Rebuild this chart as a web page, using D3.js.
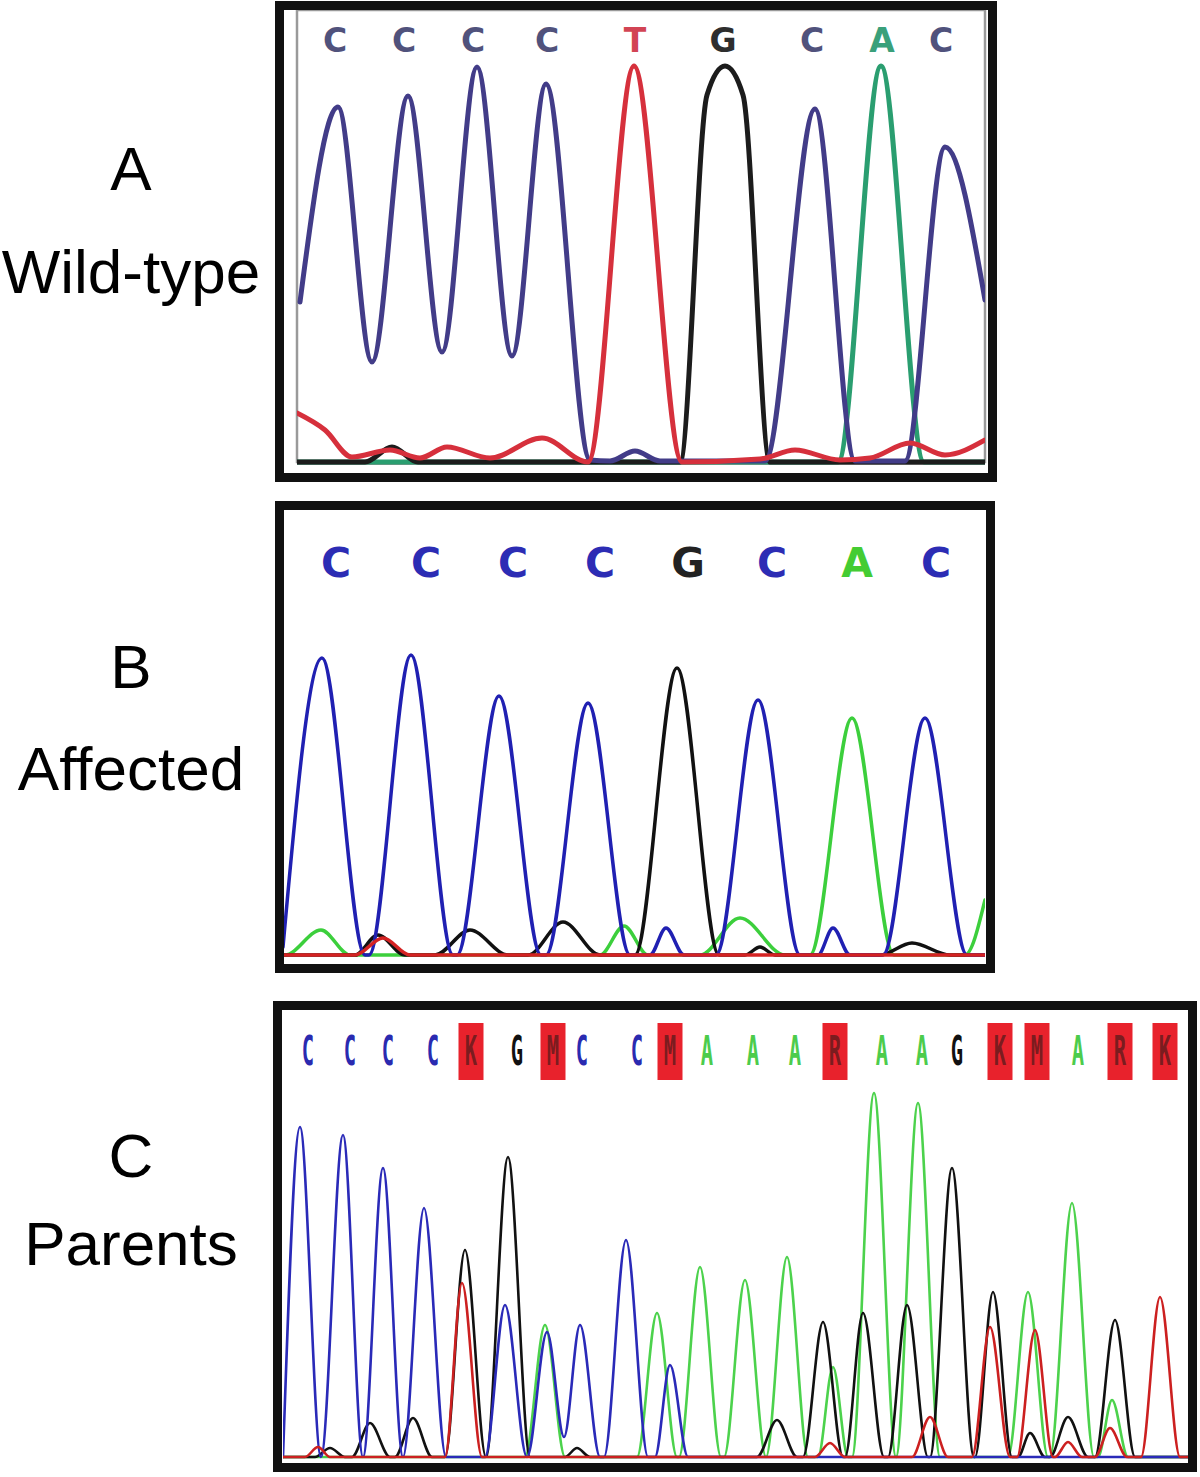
<!DOCTYPE html>
<html>
<head>
<meta charset="utf-8">
<script src="https://cdn.jsdelivr.net/npm/d3@7"></script>
<style>
  body { margin: 0; background: #fff; }
</style>
</head>
<body>
<svg width="1200" height="1477"></svg>
<script>
var svg = d3.select("svg");

// ---------- data (scan position, signal) ----------
// A: wild-type
var basesA = ["C","C","C","C","T","G","C","A","C"];
var callsA = [38, 107, 176, 250, 338, 426, 515, 585, 644];
var traceA_C = [[3,160],[41,355],[75,100],[111,366],[145,110],[180,395],[215,106],[249,378],[293,2],[313,1],[338,11],[363,1],[468,1],[518,353],[558,1],[608,1],[648,315],[688,162]];
var traceA_T = [[0,49],[28,32],[55,5],[93,12],[123,4],[150,15],[193,4],[245,24],[291,0],[337,396],[385,0],[463,3],[498,12],[543,2],[573,4],[613,19],[648,7],[688,22]];
var traceA_G = [[0,0],[68,0],[95,15],[121,0],[383,0],[410,367],[428,396],[446,367],[473,0],[688,0]];
var traceA_A = [[0,0],[541,0],[584,396],[627,0],[688,0]];

// B: affected
var basesB = ["C","C","C","C","G","C","A","C"];
var callsB = [53, 143, 230, 317, 405, 489, 574, 653];
var traceB_C = [[0,8],[39,297],[82,0],[86,0],[128,300],[170,0],[174,0],[216,259],[258,0],[263,0],[305,252],[347,0],[367,0],[383,27],[401,0],[433,0],[475,255],[517,0],[535,0],[550,27],[567,0],[600,0],[642,237],[684,0],[702,0]];
var traceB_G = [[0,0],[72,0],[95,20],[122,0],[152,0],[187,25],[225,0],[245,0],[280,33],[317,0],[352,0],[394,287],[436,0],[462,0],[477,8],[492,0],[597,0],[629,12],[667,0],[702,0]];
var traceB_A = [[0,0],[2,0],[38,25],[67,0],[317,0],[341,29],[365,0],[417,0],[457,37],[502,0],[527,0],[569,237],[611,0],[682,0],[702,55]];
var traceB_T = [[0,0],[72,0],[100,17],[127,0],[702,0]];

// C: parents
var basesC = ["C","C","C","C","K","G","M","C","C","M","A","A","A","R","A","A","G","K","M","A","R","K"];
var callsC = [25, 67, 105, 150, 188, 234, 270, 299, 354, 387, 424, 470, 512, 552, 599, 639, 674, 717, 754, 795, 837, 882];
var traceC_C = [[0,0],[17,330],[38,0],[60,322],[80,0],[100,289],[120,0],[141,249],[163,0],[202,0],[222,152],[244,0],[264,125],[281,20],[297,132],[317,0],[321,0],[343,217],[365,0],[372,0],[387,92],[405,0],[907,0]];
var traceC_G = [[0,0],[32,0],[47,9],[62,0],[69,0],[87,34],[107,0],[112,0],[130,39],[149,0],[162,0],[182,207],[203,0],[225,300],[247,0],[282,0],[294,9],[307,0],[474,0],[494,37],[514,0],[520,0],[540,135],[560,0],[562,0],[580,144],[601,0],[605,0],[624,152],[645,0],[647,0],[669,289],[691,0],[692,0],[710,165],[729,0],[735,0],[747,24],[762,0],[767,0],[785,40],[805,0],[812,0],[832,137],[852,0],[907,0]];
var traceC_T = [[0,0],[22,0],[35,10],[47,0],[162,0],[179,174],[199,0],[532,0],[547,14],[562,0],[629,0],[647,40],[665,0],[689,0],[707,130],[727,0],[734,0],[752,127],[770,0],[772,0],[785,15],[799,0],[812,0],[827,29],[844,0],[858,0],[877,160],[897,0],[907,0]];
var traceC_A = [[0,0],[242,0],[262,132],[282,0],[354,0],[374,144],[394,0],[396,0],[417,190],[438,0],[441,0],[462,177],[483,0],[504,200],[525,0],[535,0],[550,90],[565,0],[569,0],[591,364],[613,0],[635,354],[657,0],[725,0],[745,165],[765,0],[767,0],[789,254],[811,0],[815,0],[829,57],[845,0],[907,0]];

// ---------- layout ----------
var panels = [
  {
    id: "A", label: "A", name: "Wild-type",
    frame: {x0: 275, y0: 1, x1: 997, y1: 482},
    plot: {left: 297, right: 985, base: 462, top: 12},
    xDomain: [0, 688], yDomain: [0, 450],
    bases: basesA, calls: callsA,
    traces: {A: traceA_A, G: traceA_G, C: traceA_C, T: traceA_T},
    colors: {C: "#423c88", T: "#d6303c", G: "#1c1c1c", A: "#2a9e70"},
    letterColors: {C: "#50527c", T: "#d24454", G: "#2e2e2e", A: "#3aa07a"},
    strokeWidth: 5, letterY: 52, letterFont: "bold 33px 'DejaVu Sans'", letterScale: 1,
    innerBox: true,
    labelY: 190, nameY: 293
  },
  {
    id: "B", label: "B", name: "Affected",
    frame: {x0: 275, y0: 501, x1: 995, y1: 973},
    plot: {left: 283, right: 985, base: 955, top: 555},
    xDomain: [0, 702], yDomain: [0, 400],
    bases: basesB, calls: callsB,
    traces: {A: traceB_A, G: traceB_G, C: traceB_C, T: traceB_T},
    colors: {C: "#2020b2", T: "#d42222", G: "#111111", A: "#3ccf3c"},
    letterColors: {C: "#2c2cb4", T: "#d42222", G: "#222222", A: "#44cc33"},
    strokeWidth: 3.5, letterY: 577, letterFont: "bold 41px 'DejaVu Sans'", letterScale: 1,
    innerBox: false,
    labelY: 688, nameY: 790
  },
  {
    id: "C", label: "C", name: "Parents",
    frame: {x0: 273, y0: 1001, x1: 1197, y1: 1472},
    plot: {left: 283, right: 1190, base: 1457, top: 1057},
    xDomain: [0, 907], yDomain: [0, 400],
    bases: basesC, calls: callsC,
    traces: {A: traceC_A, G: traceC_G, C: traceC_C, T: traceC_T},
    colors: {C: "#2a2ab8", T: "#cc2020", G: "#111111", A: "#4cd24c"},
    letterColors: {C: "#2a2ab0", T: "#cc2020", G: "#111111", A: "#4ccc4c"},
    strokeWidth: 2.6, letterY: 1065, letterFont: "bold 41px 'DejaVu Sans Mono'", letterScale: 0.5,
    innerBox: false,
    labelY: 1177, nameY: 1265
  }
];

var ambiguous = {K: true, M: true, R: true, Y: true, S: true, W: true};

panels.forEach(drawPanel);

function drawPanel(p) {
  var x = d3.scaleLinear().domain(p.xDomain).range([p.plot.left, p.plot.right]);
  var y = d3.scaleLinear().domain(p.yDomain).range([p.plot.base, p.plot.top]);

  var line = d3.line()
    .x(function(d) { return x(d[0]); })
    .y(function(d) { return y(d[1]); })
    .curve(d3.curveMonotoneX);

  var g = svg.append("g").attr("class", "panel panel-" + p.id);

  g.append("defs").append("clipPath")
    .attr("id", "clip-" + p.id)
    .append("rect")
    .attr("x", p.plot.left)
    .attr("y", p.frame.y0)
    .attr("width", p.plot.right - p.plot.left)
    .attr("height", p.plot.base - p.frame.y0 + 4);

  if (p.innerBox) {
    g.append("rect")
      .attr("x", p.plot.left)
      .attr("y", p.plot.top - 2)
      .attr("width", p.plot.right - p.plot.left)
      .attr("height", p.plot.base - p.plot.top + 2)
      .attr("fill", "none")
      .attr("stroke", "#9a9a9a")
      .attr("stroke-width", 2.5);
    g.append("line")
      .attr("x1", p.plot.left).attr("x2", p.plot.right)
      .attr("y1", p.plot.base + 1).attr("y2", p.plot.base + 1)
      .attr("stroke", "#2a2a2a")
      .attr("stroke-width", 3);
  }

  // sequence calls along the top
  var calls = g.append("g").attr("class", "calls");
  p.bases.forEach(function(b, i) {
    var cx = x(p.calls[i]);
    if (ambiguous[b]) {
      calls.append("rect")
        .attr("x", cx - 12.5)
        .attr("y", p.letterY - 42)
        .attr("width", 25)
        .attr("height", 57)
        .attr("fill", "#e8222c");
    }
    calls.append("text")
      .attr("transform", "translate(" + cx + "," + p.letterY + ") scale(" + p.letterScale + ",1)")
      .attr("text-anchor", "middle")
      .style("font", p.letterFont)
      .attr("fill", ambiguous[b] ? "#4a1a1a" : p.letterColors[b])
      .attr("fill-opacity", ambiguous[b] ? 0.7 : 1)
      .text(b);
  });

  // traces
  var traces = g.append("g").attr("clip-path", "url(#clip-" + p.id + ")");
  ["A", "G", "C", "T"].forEach(function(b) {
    traces.append("path")
      .datum(p.traces[b])
      .attr("class", "trace trace-" + b)
      .attr("d", line)
      .attr("fill", "none")
      .attr("stroke", p.colors[b])
      .attr("stroke-width", p.strokeWidth)
      .attr("stroke-linejoin", "round")
      .attr("stroke-linecap", "round");
  });

  // frame
  g.append("rect")
    .attr("x", p.frame.x0 + 4.5)
    .attr("y", p.frame.y0 + 4.5)
    .attr("width", p.frame.x1 - p.frame.x0 - 9)
    .attr("height", p.frame.y1 - p.frame.y0 - 9)
    .attr("fill", "none")
    .attr("stroke", "#111")
    .attr("stroke-width", 9);

  // side label
  var lab = svg.append("g").attr("class", "label")
    .style("font-family", "'Liberation Sans', Arial, sans-serif")
    .style("font-size", "62px")
    .attr("fill", "#000")
    .attr("text-anchor", "middle");
  lab.append("text").attr("x", 131).attr("y", p.labelY).text(p.label);
  lab.append("text").attr("x", 131).attr("y", p.nameY).text(p.name);
}
</script>
</body>
</html>
